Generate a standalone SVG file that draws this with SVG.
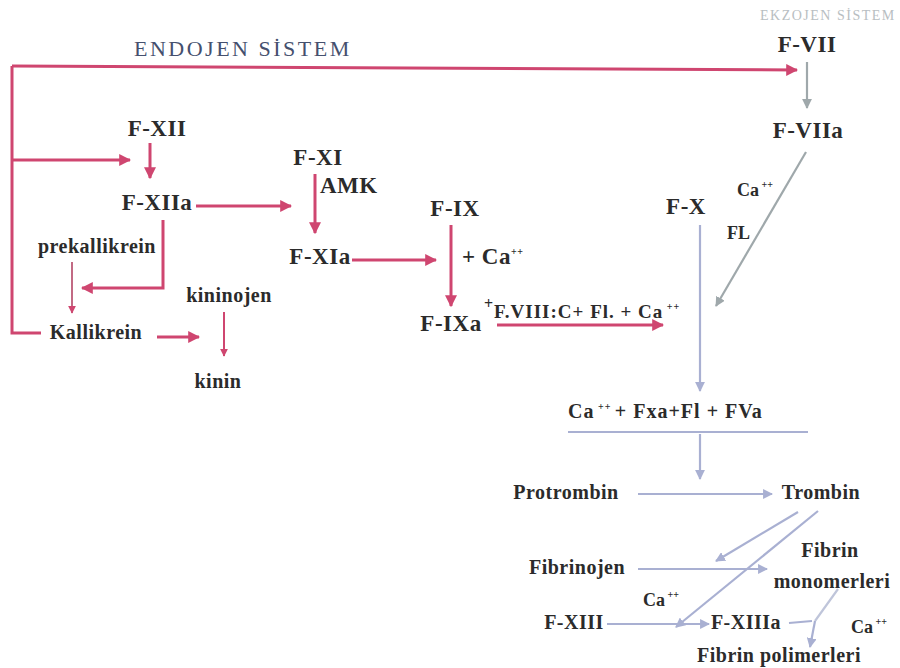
<svg xmlns="http://www.w3.org/2000/svg" width="900" height="668" viewBox="0 0 900 668" font-family="'Liberation Serif', 'DejaVu Serif', serif">
<defs>
<marker id="ap" viewBox="0 0 10 10" refX="9" refY="5" markerWidth="4" markerHeight="4" orient="auto" markerUnits="strokeWidth"><path d="M0,0 L10,5 L0,10 z" fill="#cf4670"/></marker>
<marker id="ag" viewBox="0 0 10 10" refX="9" refY="5" markerWidth="4.5" markerHeight="4.5" orient="auto" markerUnits="strokeWidth"><path d="M0,0 L10,5 L0,10 z" fill="#9fa8ab"/></marker>
<marker id="ab" viewBox="0 0 10 10" refX="9" refY="5" markerWidth="4.5" markerHeight="4.5" orient="auto" markerUnits="strokeWidth"><path d="M0,0 L10,5 L0,10 z" fill="#a9b0d2"/></marker>
</defs>
<style>
text{font-family:'Liberation Serif','DejaVu Serif',serif;font-weight:bold;fill:#2b2b2b}
.t{font-size:23px;letter-spacing:0.5px}
.s{font-size:20px;letter-spacing:0.5px}
.m{font-size:20px;letter-spacing:1px}
.c{font-size:18px}
.sup{font-size:10px}
.p{fill:none;stroke:#cf4670;stroke-width:3}
.g{fill:none;stroke:#9fa8ab;stroke-width:2.2}
.b{fill:none;stroke:#a9b0d2;stroke-width:2.2}
</style>
<rect width="900" height="668" fill="#ffffff"/>
<text x="134" y="56" font-size="22" style="fill:#45506e;font-weight:normal;letter-spacing:2.5px">ENDOJEN SİSTEM</text>
<text x="760" y="20" font-size="14" style="fill:#b8bec2;font-weight:normal;letter-spacing:1.5px">EKZOJEN SİSTEM</text>
<g id="connectors">
<polyline class="p" points="12,66 12,333 41,333"/>
<line class="p" x1="12" y1="66" x2="797" y2="70" marker-end="url(#ap)"/>
<line class="p" x1="12" y1="160" x2="130" y2="160" marker-end="url(#ap)"/>
<line class="p" x1="150" y1="143" x2="150" y2="178" marker-end="url(#ap)"/>
<line class="p" x1="196" y1="206" x2="291" y2="206" marker-end="url(#ap)"/>
<polyline class="p" points="163,220 163,288 82,288" marker-end="url(#ap)"/>
<line class="p" x1="72" y1="262" x2="72" y2="313" style="stroke:#c26a84;stroke-width:2" marker-end="url(#ap)"/>
<line class="p" x1="157" y1="337" x2="199" y2="337" marker-end="url(#ap)"/>
<line class="p" x1="224" y1="312" x2="224" y2="356" style="stroke-width:2" marker-end="url(#ap)"/>
<line class="p" x1="315" y1="174" x2="315" y2="233" marker-end="url(#ap)"/>
<line class="p" x1="352" y1="260" x2="436" y2="260" marker-end="url(#ap)"/>
<line class="p" x1="451" y1="225" x2="451" y2="306" marker-end="url(#ap)"/>
<line class="p" x1="497" y1="325" x2="663" y2="325" marker-end="url(#ap)"/>
<line class="g" x1="807" y1="62" x2="807" y2="108" marker-end="url(#ag)"/>
<line class="g" x1="806" y1="152" x2="716" y2="306" marker-end="url(#ag)"/>
<line class="b" x1="700" y1="225" x2="700" y2="391" marker-end="url(#ab)"/>
<line class="b" x1="568" y1="432" x2="808" y2="432"/>
<line class="b" x1="700" y1="434" x2="700" y2="479" marker-end="url(#ab)"/>
<line class="b" x1="638" y1="494" x2="772" y2="494" marker-end="url(#ab)"/>
<line class="b" x1="798" y1="512" x2="716" y2="561" marker-end="url(#ab)"/>
<line class="b" x1="818" y1="511" x2="676" y2="627" marker-end="url(#ab)"/>
<line class="b" x1="638" y1="569" x2="767" y2="569" marker-end="url(#ab)"/>
<line class="b" x1="607" y1="624" x2="709" y2="624" marker-end="url(#ab)"/>
<line class="b" x1="789" y1="623" x2="812" y2="621"/>
<line class="b" x1="838" y1="589" x2="815" y2="621" style="stroke:#bfc5da"/>
<line class="b" x1="815" y1="621" x2="810" y2="647" marker-end="url(#ab)"/>
</g>
<g id="n-fvii"><text class="t" x="807" y="52" text-anchor="middle">F-VII</text></g>
<g id="n-fviia"><text class="t" x="808" y="138" text-anchor="middle">F-VIIa</text></g>
<g id="n-ca1"><text class="c" x="737" y="196">Ca<tspan class="sup" dy="-8"> ++</tspan></text></g>
<g id="n-fl1"><text class="c" x="727" y="239">FL</text></g>
<g id="n-fx"><text class="t" x="686" y="214" text-anchor="middle">F-X</text></g>
<g id="n-fxii"><text class="t" x="157" y="136" text-anchor="middle">F-XII</text></g>
<g id="n-fxiia"><text class="t" x="157" y="210" text-anchor="middle">F-XIIa</text></g>
<g id="n-prek"><text class="s" x="97" y="253" text-anchor="middle">prekallikrein</text></g>
<g id="n-kall"><text class="s" x="96" y="339" text-anchor="middle">Kallikrein</text></g>
<g id="n-kininojen"><text class="s" x="229" y="302" text-anchor="middle">kininojen</text></g>
<g id="n-kinin"><text class="s" x="218" y="388" text-anchor="middle">kinin</text></g>
<g id="n-fxi"><text class="t" x="318" y="165" text-anchor="middle">F-XI</text></g>
<g id="n-amk"><text class="t" x="320" y="193">AMK</text></g>
<g id="n-fxia"><text class="t" x="320" y="264" text-anchor="middle">F-XIa</text></g>
<g id="n-fix"><text class="t" x="455" y="216" text-anchor="middle">F-IX</text></g>
<g id="n-ca2"><text class="t" x="462" y="264">+ Ca<tspan class="sup" dy="-9">++</tspan></text></g>
<g id="n-fixa"><text class="t" x="451" y="331" text-anchor="middle">F-IXa</text></g>
<g id="n-f8"><text x="484" y="309" font-size="16">+</text><text class="m" x="494" y="318" style="font-size:19px">F.VIII:C+ Fl. + Ca<tspan class="sup" dy="-8"> ++</tspan></text></g>
<g id="n-complex"><text class="m" x="568" y="418">Ca<tspan class="sup" dy="-8"> ++ </tspan><tspan dy="8">+ Fxa+Fl + FVa</tspan></text></g>
<g id="n-protrombin"><text class="s" x="566" y="499" text-anchor="middle">Protrombin</text></g>
<g id="n-trombin"><text class="s" x="821" y="499" text-anchor="middle">Trombin</text></g>
<g id="n-fibrinojen"><text class="s" x="577" y="574" text-anchor="middle">Fibrinojen</text></g>
<g id="n-fibrinmono"><text class="s" x="830" y="557" text-anchor="middle">Fibrin</text><text class="s" x="832" y="588" text-anchor="middle">monomerleri</text></g>
<g id="n-ca3"><text class="c" x="643" y="606">Ca<tspan class="sup" dy="-8"> ++</tspan></text></g>
<g id="n-fxiii"><text class="s" x="574" y="629" text-anchor="middle">F-XIII</text></g>
<g id="n-fxiiia"><text class="s" x="746" y="629" text-anchor="middle">F-XIIIa</text></g>
<g id="n-ca4"><text class="c" x="851" y="633">Ca<tspan class="sup" dy="-8"> ++</tspan></text></g>
<g id="n-fibrinpoly"><text class="s" x="779" y="662" text-anchor="middle">Fibrin polimerleri</text></g>
</svg>
